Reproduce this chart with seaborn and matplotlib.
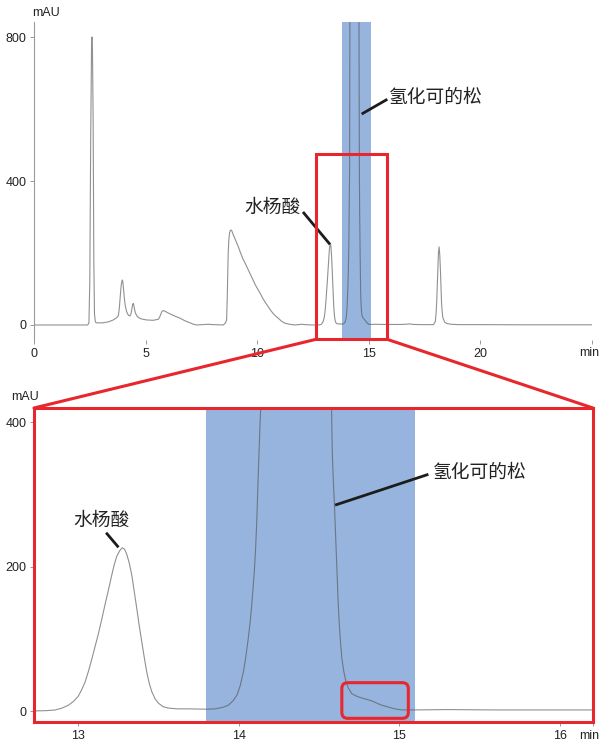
import matplotlib
matplotlib.use("Agg")
import matplotlib.pyplot as plt
import seaborn as sns
import pandas as pd
from matplotlib.patches import Rectangle, FancyBboxPatch, ConnectionPatch

# HPLC trace: retention time (min) and detector response (mAU)
time_min = [
    0.00, 2.40, 2.46, 2.50, 2.54, 2.58, 2.60, 2.62, 2.65, 2.68, 2.71, 2.75,
    2.81, 3.10, 3.35, 3.55, 3.70, 3.78, 3.82, 3.85, 3.88, 3.91, 3.94, 3.96,
    3.98, 4.00, 4.02, 4.04, 4.07, 4.10, 4.15, 4.23, 4.30, 4.35, 4.39, 4.42,
    4.45, 4.47, 4.49, 4.52, 4.54, 4.60, 4.67, 4.80, 5.04, 5.34, 5.57, 5.63,
    5.68, 5.72, 5.76, 5.79, 5.84, 5.90, 6.00, 6.09, 6.30, 6.54, 6.75, 6.99,
    7.15, 7.28, 7.55, 7.81, 8.05, 8.48, 8.58, 8.63, 8.66, 8.70, 8.73, 8.76,
    8.79, 8.82, 8.86, 8.92, 9.00, 9.08, 9.15, 9.25, 9.35, 9.48, 9.60, 9.70,
    9.80, 9.92, 10.05, 10.15, 10.25, 10.37, 10.49, 10.60, 10.70, 10.82, 10.94,
    11.10, 11.24, 11.45, 11.69, 11.85, 11.99, 12.15, 12.43, 12.70, 12.80,
    12.857, 12.90, 12.94, 12.97, 13.00, 13.02, 13.044, 13.065, 13.085, 13.105,
    13.127, 13.148, 13.168, 13.19, 13.21, 13.225, 13.241, 13.26, 13.275,
    13.29, 13.305, 13.32, 13.335, 13.35, 13.366, 13.38, 13.397, 13.412,
    13.428, 13.443, 13.459, 13.48, 13.50, 13.53, 13.563, 13.62, 13.687,
    13.80, 13.854, 13.90, 13.936, 13.965, 13.99, 14.01, 14.03, 14.045, 14.06,
    14.072, 14.082, 14.09, 14.098, 14.106, 14.113, 14.123, 14.134, 14.14,
    14.148, 14.155, 14.17, 14.20, 14.25, 14.30, 14.36, 14.42, 14.47, 14.51,
    14.54, 14.56, 14.572, 14.578, 14.584, 14.59, 14.597, 14.605, 14.612,
    14.619, 14.626, 14.634, 14.643, 14.655, 14.668, 14.685, 14.705, 14.74,
    14.768, 14.80, 14.83, 14.86, 14.892, 14.925, 14.955, 14.985, 15.017,
    15.10, 15.30, 15.60, 16.00, 16.50, 16.84, 17.00, 17.40, 17.90, 17.98,
    18.01, 18.04, 18.07, 18.09, 18.12, 18.15, 18.18, 18.21, 18.24, 18.26,
    18.29, 18.32, 18.40, 18.50, 18.70, 19.00, 20.00, 22.00, 25.00,
]
absorbance_mau = [
    0, 0, 5, 120, 520, 790, 800, 760, 560, 180, 30, 8,
    6, 6, 9, 14, 20, 26, 45, 69, 92, 112, 122, 125,
    120, 108, 94, 79, 62, 50, 37, 27, 25, 32, 47, 57,
    60, 56, 48, 39, 34, 26, 21, 17, 14, 13, 16, 22,
    30, 36, 39, 40, 39, 37, 34, 31, 25, 19, 12, 6,
    2, 0, 1, 2, 1, 0, 6, 14, 80, 199, 238, 255,
    262, 264, 262, 252, 240, 228, 218, 201, 185, 169, 153, 140,
    126, 111, 97, 86, 74, 62, 51, 41, 33, 25, 19,
    10, 5, 2, 0, 1, 2, 1, 0, 0, 0.5,
    1.4, 4, 8, 13, 20, 28, 40, 55, 71, 88,
    107, 127, 147, 168, 188, 202, 214, 222, 226,
    224, 216, 204, 188, 166, 142, 120, 96, 75,
    54, 39, 27, 17, 11, 6, 4, 3, 3,
    2.5, 3, 5, 8, 14, 22, 35, 54, 75, 100,
    123, 147, 170, 193, 225, 262, 331, 400, 430,
    700, 950, 1350, 1900, 2500, 2850, 3000, 2800, 2300, 1700,
    1200, 850, 520, 430, 354, 318, 285, 238, 193,
    157, 124, 97, 73, 55, 41, 31, 24, 20,
    18, 16, 14, 11, 8, 6, 4, 2.5, 1.5,
    1.5, 2, 1.5, 1.5, 1.5, 3, 1.5, 1, 1, 10,
    28, 60, 115, 160, 200, 217, 195, 150, 95, 60,
    35, 20, 8, 4, 2, 1, 1, 0.5, 0.5,
]

full_xticks = [0, 5, 10, 15, 20, 25]
full_xticklabels = ["0", "5", "10", "15", "20", ""]
full_yticks = [0, 400, 800]
zoom_xticks = [13, 14, 15, 16, 16.207]
zoom_xticklabels = ["13", "14", "15", "16", ""]
zoom_yticks = [0, 200, 400]
x_unit = "min"
y_unit = "mAU"

fraction_window = (13.8, 15.1)          # collected hydrocortisone fraction
zoom_window_x = (12.62, 15.83)          # region enlarged in the lower panel
zoom_window_top = 475
shoulder_box_x = (14.643, 15.057)       # tailing shoulder
shoulder_box_y = (-10.1, 39.2)

label_salicylic = "水杨酸"
label_hydrocortisone = "氢化可的松"

BLUE = "#97b4de"
RED = "#e8262d"
TRACE = "#555555"
INK = "#1c1c1c"
TXT = "#222222"

sns.set_theme(style="ticks")
plt.rcParams["font.family"] = ["Liberation Sans", "DejaVu Sans"]
CJK = ["Noto Sans CJK SC", "DejaVu Sans"]

trace = pd.DataFrame({"time": time_min, "mAU": absorbance_mau})

W, H = 600, 744
fig = plt.figure(figsize=(W / 100, H / 100), dpi=100)


def box(l, t, r, b):
    return [l / W, 1 - b / H, (r - l) / W, (b - t) / H]


ax1 = fig.add_axes(box(34, 22, 592, 340))
ax2 = fig.add_axes(box(34, 408, 593, 722))

for ax in (ax1, ax2):
    ax.axvspan(*fraction_window, color=BLUE, lw=0, zorder=0)
    sns.lineplot(data=trace, x="time", y="mAU", ax=ax, color=TRACE,
                 alpha=0.65, lw=0.8, estimator=None, sort=False, zorder=2)
    ax.set_xlabel("")
    ax.set_ylabel("")
    ax.tick_params(axis="both", direction="out", length=3, width=0.6,
                   color="#888888", labelsize=9, labelcolor=TXT, pad=2.5)

# ---- full chromatogram ----
ax1.set_xlim(0, 25)
ax1.set_ylim(-41.7, 841.7)
ax1.set_xticks(full_xticks, full_xticklabels)
ax1.set_yticks(full_yticks)
for s in ("top", "right", "bottom"):
    ax1.spines[s].set_visible(False)
ax1.spines["left"].set_color("#9a9a9a")
ax1.spines["left"].set_linewidth(0.8)
fig.text(46 / W, 1 - 13 / H, y_unit, ha="center", va="center", fontsize=9, color=TXT)
fig.text(599 / W, 1 - 353 / H, x_unit, ha="right", va="center", fontsize=9, color=TXT)

ax1.add_patch(Rectangle((zoom_window_x[0], -40), zoom_window_x[1] - zoom_window_x[0],
                        zoom_window_top + 40, fill=False, ec=RED, lw=2.2,
                        clip_on=False, zorder=5))

ax1.plot([14.68, 15.83], [586, 627], color=INK, lw=2.0, solid_capstyle="butt", zorder=4)
ax1.text(15.90, 633, label_hydrocortisone, family=CJK, fontsize=13.5,
         ha="left", va="center", color=TXT)
ax1.plot([12.05, 13.26], [314, 224], color=INK, lw=2.0, solid_capstyle="butt", zorder=4)
ax1.text(11.95, 328, label_salicylic, family=CJK, fontsize=13.5,
         ha="right", va="center", color=TXT)

# ---- enlarged window ----
ax2.set_xlim(12.726, 16.207)
ax2.set_ylim(-15.2, 419.4)
ax2.set_xticks(zoom_xticks, zoom_xticklabels)
ax2.set_yticks(zoom_yticks)
for s in ax2.spines.values():
    s.set_color(RED)
    s.set_linewidth(2.2)
    s.set_zorder(6)
fig.text(25 / W, 1 - 397 / H, y_unit, ha="center", va="center", fontsize=9, color=TXT)
fig.text(599 / W, 1 - 736 / H, x_unit, ha="right", va="center", fontsize=9, color=TXT)

ax2.add_patch(FancyBboxPatch((shoulder_box_x[0], shoulder_box_y[0]),
                             shoulder_box_x[1] - shoulder_box_x[0],
                             shoulder_box_y[1] - shoulder_box_y[0],
                             boxstyle="round,pad=0,rounding_size=0.037",
                             mutation_aspect=222, fc="none", ec=RED, lw=2.2,
                             zorder=5))

ax2.plot([14.601, 15.182], [285, 327.6], color=INK, lw=2.0, solid_capstyle="butt", zorder=4)
ax2.text(15.211, 330.8, label_hydrocortisone, family=CJK, fontsize=13.5,
         ha="left", va="center", color=TXT)
ax2.plot([13.175, 13.252], [246.8, 226.6], color=INK, lw=2.0, solid_capstyle="butt", zorder=4)
ax2.text(13.146, 264, label_salicylic, family=CJK, fontsize=13.5,
         ha="center", va="center", color=TXT)

# connectors from the boxed region to the enlarged panel
for xa, xb in ((zoom_window_x[0], 0), (zoom_window_x[1], 1)):
    con = ConnectionPatch(xyA=(xa, -40), coordsA=ax1.transData,
                          xyB=(xb, 1), coordsB=ax2.transAxes,
                          color=RED, lw=2.2, zorder=7)
    fig.add_artist(con)

fig.savefig("out.png", dpi=100)
